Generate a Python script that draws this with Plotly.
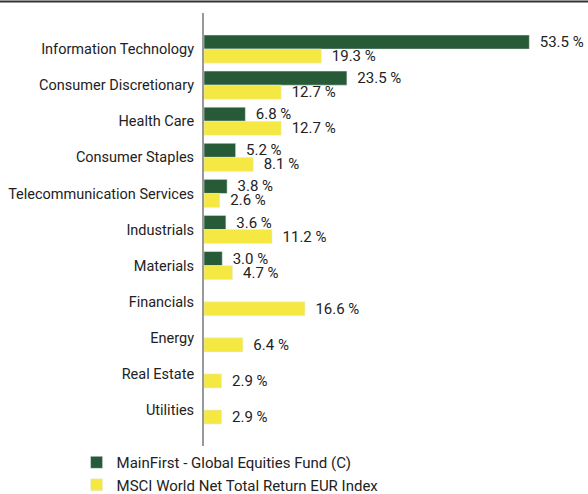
import plotly.graph_objects as go

FUND_COLOR = "#275a36"
INDEX_COLOR = "#f5e843"
FONT = "Roboto, Liberation Sans, sans-serif"

sectors = [
    "Information Technology",
    "Consumer Discretionary",
    "Health Care",
    "Consumer Staples",
    "Telecommunication Services",
    "Industrials",
    "Materials",
    "Financials",
    "Energy",
    "Real Estate",
    "Utilities",
]
fund = [53.5, 23.5, 6.8, 5.2, 3.8, 3.6, 3.0, None, None, None, None]
index = [19.3, 12.7, 12.7, 8.1, 2.6, 11.2, 4.7, 16.6, 6.4, 2.9, 2.9]

fund_name = "MainFirst - Global Equities Fund (C)"
index_name = "MSCI World Net Total Return EUR Index"


def pct_labels(values):
    pad = "\u00a0\u00a0"
    return [pad + f"{v:.1f} %" if v is not None else "" for v in values]


fig = go.Figure()
for name, values, color in [(fund_name, fund, FUND_COLOR), (index_name, index, INDEX_COLOR)]:
    fig.add_trace(go.Bar(
        y=sectors,
        x=values,
        name=name,
        orientation="h",
        marker_color=color,
        text=pct_labels(values),
        textposition="outside",
        constraintext="none",
        textfont=dict(size=15, color="#222"),
        cliponaxis=False,
    ))

fig.update_layout(
    barmode="group",
    bargap=0.22,
    bargroupgap=0,
    width=588,
    height=494,
    plot_bgcolor="white",
    paper_bgcolor="white",
    font=dict(family=FONT, size=14.5, color="#222"),
    margin=dict(l=204, r=7, t=13, b=47),
    showlegend=True,
    legend=dict(
        orientation="v",
        xref="paper",
        yref="container",
        x=-0.338,
        y=0.097,
        xanchor="left",
        yanchor="top",
        traceorder="normal",
        font=dict(size=15),
        tracegroupgap=0,
    ),
    xaxis=dict(
        range=[0, 62],
        visible=False,
    ),
    yaxis=dict(
        categoryorder="array",
        categoryarray=sectors,
        range=[len(sectors), -1],
        showline=True,
        linecolor="#999",
        linewidth=2,
        ticks="",
        ticklabelstandoff=5,
        showgrid=False,
        automargin=False,
    ),
    shapes=[
        dict(
            type="line",
            xref="paper", yref="paper",
            x0=-0.6, x1=1.05,
            y0=1.0265, y1=1.0265,
            line=dict(color="#333", width=2),
        ),
    ],
)

# the page's default body margin would shift the chart by 8px
fig.write_html(
    "out.html",
    config={"displayModeBar": False},
    post_script="document.body.style.margin='0';",
)
